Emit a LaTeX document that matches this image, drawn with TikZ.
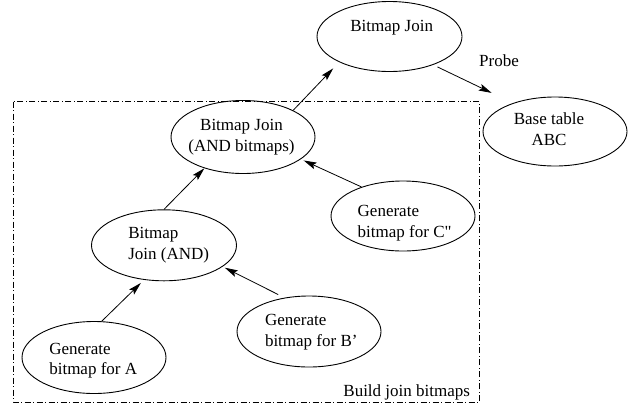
\documentclass[tikz,border=0pt]{standalone}
\usepackage{fontspec}
\setmainfont{Liberation Serif}[Ligatures=TeXOff]
\usetikzlibrary{shapes.geometric,arrows.meta}

\begin{document}
\begin{tikzpicture}[x=1pt,y=-1pt,
  every node/.style={font=\fontsize{17}{20.5}\selectfont},
  bubble/.style={ellipse,draw,line width=0.9pt,inner sep=0pt},
  caption/.style={inner sep=0pt,outer sep=0pt},
  flow/.style={line width=0.8pt,-{Stealth[length=13pt,width=7pt,inset=2.5pt]}},
  group/.style={line width=0.8pt,dash pattern=on 6pt off 2.5pt on 1pt off 2.5pt}
]
\useasboundingbox (0,0) rectangle (629,408);

% group frame
\draw[group] (13,101.5) rectangle (479.5,402);
\node[caption,anchor=base] (grp) at (406.7,396.7) {Build join bitmaps};

% operators
\node[bubble,minimum width=145pt,minimum height=70pt] (top) at (389.5,36.5) {};
\node[bubble,minimum width=144pt,minimum height=69pt] (base) at (555,131.5) {};
\node[bubble,minimum width=144pt,minimum height=73pt] (mid) at (243,137) {};
\node[bubble,minimum width=144pt,minimum height=70pt] (genc) at (403,216) {};
\node[bubble,minimum width=145pt,minimum height=71pt] (andj) at (164,245.3) {};
\node[bubble,minimum width=144pt,minimum height=71pt] (genb) at (309,331.5) {};
\node[bubble,minimum width=144pt,minimum height=72pt] (gena) at (94,357.5) {};

% operator labels
\node[caption,anchor=base] (topT) at (391.7,31.7) {Bitmap Join};
\node[caption,align=center] (baseT) at (549,129) {Base table\\ABC};
\node[caption,align=center] (midT) at (241.5,137.3) {Bitmap Join\\(AND bitmaps)};
\node[caption,align=left,anchor=west] (gencT) at (357.7,223.3) {Generate\\bitmap for C"};
\node[caption,align=left,anchor=west] (andjT) at (128.3,245.1) {Bitmap\\Join (AND)};
\node[caption,align=left,anchor=west] (genbT) at (265,332.4) {Generate\\bitmap for B’};
\node[caption,align=left,anchor=west] (genaT) at (49.3,360.5) {Generate\\bitmap for A};

\node[caption,anchor=base] (probe) at (499,66.7) {Probe};

% data flow
\draw[flow,shorten >=8.6pt] (mid.28.5) -- (top.207.5);
\draw[flow,shorten <=4.7pt,shorten >=23.5pt] (top.-33.3) -- (base.146.4);
\draw[flow] (andj.90) -- (mid.219.4);
\draw[flow,shorten >=3pt] (genc.145.7) -- (mid.-21.7);
\draw[flow,shorten >=4.4pt] (gena.78.4) -- (andj.240.8);
\draw[flow,shorten <=7pt,shorten >=2.4pt] (genb.126.1) -- (andj.-20.9);
\end{tikzpicture}
\end{document}
